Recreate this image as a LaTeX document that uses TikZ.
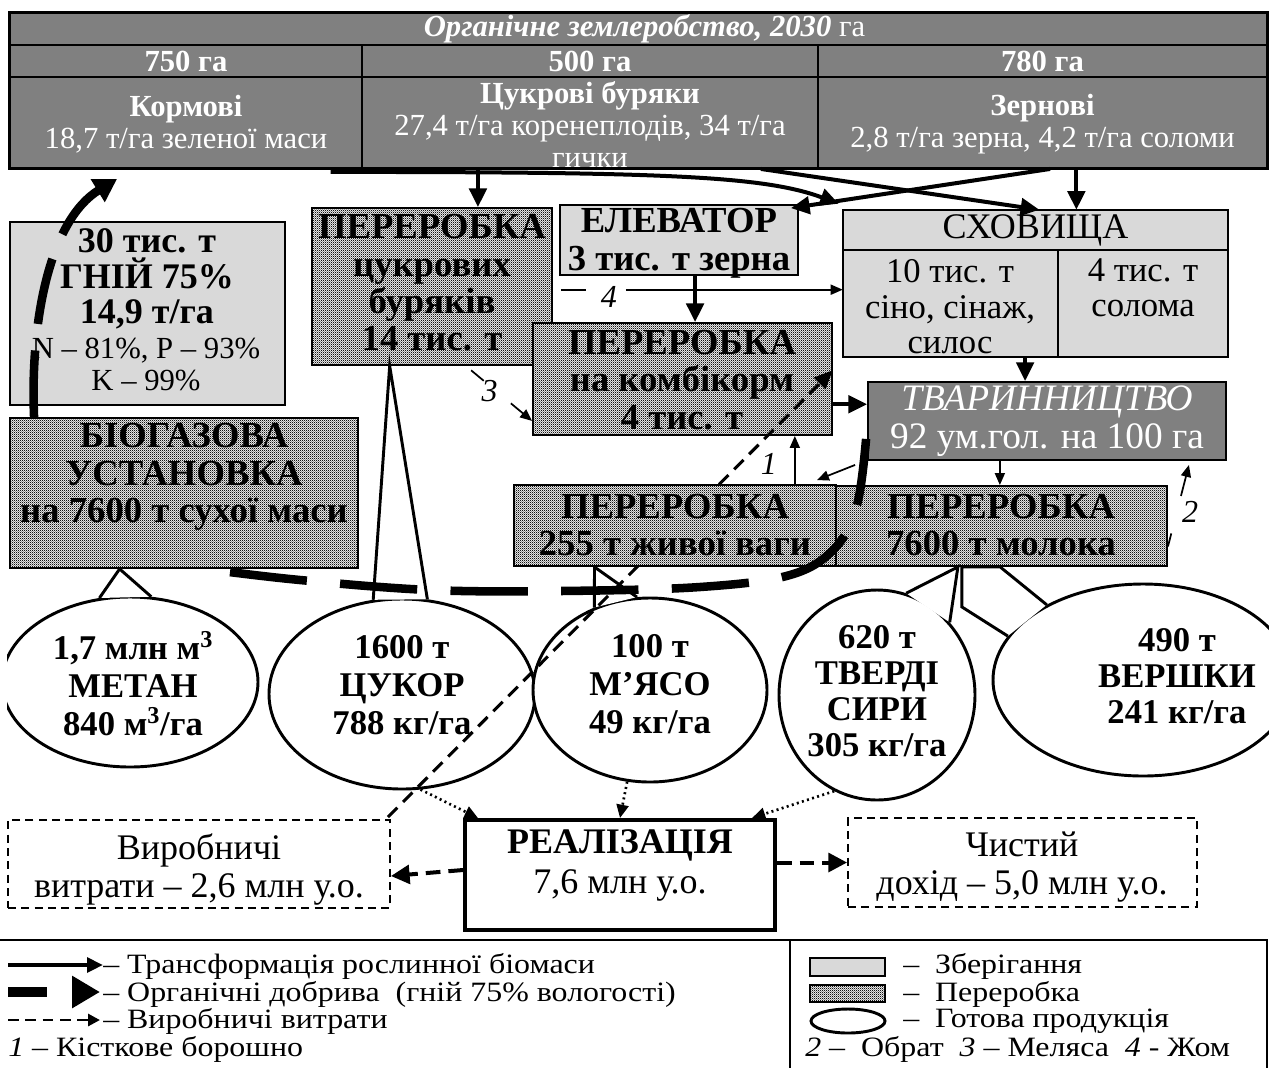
\documentclass[tikz,border=0pt]{standalone}
\usepackage{fontspec}
\setmainfont{Liberation Serif}
\newfontfamily\legfont[FakeStretch=1.14]{Liberation Serif}
\usetikzlibrary{arrows.meta,shapes.geometric,calc,fit,patterns}
\pgfdeclarepatternformonly{checker}{\pgfqpoint{0pt}{0pt}}{\pgfqpoint{1.6pt}{1.6pt}}{\pgfqpoint{1.6pt}{1.6pt}}{%
\pgfpathrectangle{\pgfqpoint{0pt}{0pt}}{\pgfqpoint{0.8pt}{0.8pt}}%
\pgfpathrectangle{\pgfqpoint{0.8pt}{0.8pt}}{\pgfqpoint{0.8pt}{0.8pt}}%
\pgfusepath{fill}}
\definecolor{dgray}{HTML}{808080}
\definecolor{lgray}{HTML}{D9D9D9}
\newcommand\fs[2]{\fontsize{#1}{#2}\selectfont}
\begin{document}
\begin{tikzpicture}[x=0.75pt,y=-0.75pt,
 bx/.style={inner sep=0pt, draw, line width=1.4pt},
 tbl/.style={bx, fill=dgray},
 store/.style={bx, fill=lgray},
 proc/.style={bx, preaction={fill=gray!8}, pattern=checker, pattern color=black!92},
 dashbox/.style={bx, dash pattern=on 6pt off 4pt},
 txt/.style={inner sep=0pt, align=center},
 wtxt/.style={txt, text=white, font=\fs{23}{24}},
 btxt/.style={txt, font=\fs{27.5}{28}\bfseries},
 etxt/.style={txt, font=\fs{26}{28.5}\bfseries},
 rtxt/.style={txt, font=\fs{27}{29}},
 legt/.style={inner sep=0pt, anchor=west, font=\legfont\fs{21}{21}},
 lab/.style={inner sep=1pt, font=\fs{24}{24}\itshape},
 ell/.style={ellipse, draw, fill=white, line width=2.2pt, inner sep=0pt},
 ptr/.style={line width=2.2pt, line join=miter},
 tarrow/.style={line width=3pt, -{Triangle[length=14pt,width=13pt]}},
 thinln/.style={line width=1.3pt},
 thinar/.style={line width=1.3pt, -{Triangle[length=9pt,width=7.5pt]}},
 fertA/.style={line width=6.4pt, dash pattern=on 58pt off 25pt, dash phase=8pt},
 fertB/.style={line width=6.4pt, dash pattern=on 50pt off 20pt, -{Triangle[length=17pt,width=19pt]}},
 cost/.style={line width=2.3pt, dash pattern=on 10pt off 6pt, -{Triangle[length=14pt,width=12pt]}},
 dotar/.style={line width=2pt, dash pattern=on 1.5pt off 2.5pt, -{Triangle[length=10pt,width=9pt]}},
 tdash/.style={line width=3pt, dash pattern=on 11pt off 6pt, -{Triangle[length=14pt,width=14pt]}}
]
\useasboundingbox (0,0) rectangle (1269,1068);
\clip (0,0) rectangle (1269,1068);
\fill[white] (0,0) rectangle (1269,1068);

% ---------- table ----------
\node[tbl, fit={(10,13)(1267,45)}] (title) {};
\node[tbl, fit={(10,45)(362,77)}] (h1) {};
\node[tbl, fit={(362,45)(818,77)}] (h2) {};
\node[tbl, fit={(818,45)(1267,77)}] (h3) {};
\node[tbl, fit={(10,77)(362,168)}] (c1) {};
\node[tbl, fit={(362,77)(818,168)}] (c2) {};
\node[tbl, fit={(818,77)(1267,168)}] (c3) {};
\draw[line width=2.2pt] (title.north west) rectangle (c3.south east);
\node[wtxt] (titlet) at ($(title.center)+(6,0)$) {\textbf{\textit{Органічне землеробство, 2030}} га};
\node[wtxt, font=\fs{23}{24}\bfseries] (h1t) at (h1.center) {750 га};
\node[wtxt, font=\fs{23}{24}\bfseries] (h2t) at (h2.center) {500 га};
\node[wtxt, font=\fs{23}{24}\bfseries] (h3t) at (h3.center) {780 га};
\node[wtxt] (c1t) at ($(c1.center)+(0,2)$) {\textbf{Кормові}\\18,7 т/га зеленої маси};
\node[wtxt] (c2t) at ($(c2.center)+(0,2)$) {\textbf{Цукрові буряки}\\27,4 т/га коренеплодів, 34 т/га\\гички};
\node[wtxt] (c3t) at ($(c3.center)+(0,2)$) {\textbf{Зернові}\\2,8 т/га зерна, 4,2 т/га соломи};

% ---------- boxes ----------
\node[store, fit={(10,222)(285,405)}] (gnij) {};
\node[txt, font=\fs{27}{26.5}\bfseries] (gnijA) at (147,279) {30 тис. т\\ГНІЙ 75\%\\14,9 т/га};
\node[txt, font=\fs{23}{24}] (gnijB) at (146,364) {N – 81\%, P – 93\%\\K – 99\%};

\node[proc, fit={(10,418)(358,568)}] (bio) {};
\node[btxt] (biot) at (184,477) {БІОГАЗОВА\\УСТАНОВКА\\на 7600 т сухої маси};

\node[proc, fit={(312,208)(552,365)}] (cukr) {};
\node[btxt] (cukrt) at (432,283) {ПЕРЕРОБКА\\цукрових\\буряків\\14 тис. т};

\node[store, fit={(560,205)(798,275)}] (elev) {};
\node[btxt, font=\fs{27.5}{28.5}\bfseries] (elevt) at (679,243) {ЕЛЕВАТОР\\3 тис. т зерна};

\node[store, fit={(843,210)(1228,250)}] (skhA) {};
\node[store, fit={(843,250)(1058,357)}] (skhB) {};
\node[store, fit={(1058,250)(1228,357)}] (skhC) {};
\node[inner sep=0pt, fit={(843,210)(1228,357)}] (skh) {};
\node[txt, font=\fs{27}{28}] (skhAt) at (skhA.center) {СХОВИЩА};
\node[txt, font=\fs{26}{26.6}] (skhBt) at (950,307) {10 тис. т\\сіно, сінаж,\\силос};
\node[txt, font=\fs{26}{26.6}] (skhCt) at (1143,288) {4 тис. т\\солома};

\node[proc, fit={(533,323)(832,435)}] (komb) {};
\node[btxt] (kombt) at (682,380) {ПЕРЕРОБКА\\на комбікорм\\4 тис. т};

\node[tbl, fit={(868,382)(1226,460)}] (tvar) {};
\node[txt, text=white, font=\fs{28}{28}] (tvart) at (1047,421) {\textit{ТВАРИННИЦТВО}\\92 ум.гол. на 100 га};

\node[proc, fit={(836,486)(1167,566)}] (mol) {};
\node[btxt] (molt) at (1001,525) {ПЕРЕРОБКА\\7600 т молока};

% ---------- bubbles ----------
\node[ell, minimum width={300*0.75pt}, minimum height={192*0.75pt}] (ver) at (1143,680) {};
\coordinate (vA1) at ($(mol.south west)!0.381!(mol.south east)$);
\coordinate (vA2) at ($(mol.south west)!0.496!(mol.south east)$);
\coordinate (vK) at ($(vA1)+(0,40)$);
\fill[white] (ver.162) -- (vK) -- (vA1) -- (vA2) -- (ver.142.5) -- cycle;
\draw[ptr] (ver.162) -- (vK) -- (vA1) -- (vA2) -- (ver.142.5);

\node[ell, minimum width={196*0.75pt}, minimum height={210*0.75pt}] (sir) at (877,695) {};
\coordinate (sA) at ($(mol.south west)!0.369!(mol.south east)$);
\fill[white] (sir.74) -- (sA) -- (sir.45) -- cycle;
\draw[ptr] (sir.74) -- (sA) -- (sir.45);

\begin{scope}
\clip (7,0) rectangle (1269,1068);
\node[ell, minimum width={256*0.75pt}, minimum height={170*0.75pt}] (met) at (130,682) {};
\end{scope}
\coordinate (mA) at ($(bio.south west)!0.316!(bio.south east)$);
\fill[white] (met.110.6) -- (mA) -- (met.76) -- cycle;
\draw[ptr] (met.110.6) -- (mA) -- (met.76);

\node[ell, minimum width={266*0.75pt}, minimum height={190*0.75pt}] (cuk) at (402,694) {};
\coordinate (cA) at ($(cukr.south west)!0.325!(cukr.south east)$);
\fill[white] (cuk.107.1) -- (cA) -- (cuk.75.4) -- cycle;
\draw[ptr] (cuk.107.1) -- (cA) -- (cuk.75.4);

\node[ell, minimum width={234*0.75pt}, minimum height={184*0.75pt}] (mje) at (650,690) {};
\coordinate (mjA) at (594.5,567);
\fill[white] (mje.124.2) -- (mjA) -- (mje.98.1) -- cycle;
\draw[ptr] (mje.124.2) -- (mjA) -- (mje.98.1);

\node[etxt] (mett) at (133,684) {1,7 млн м\textsuperscript{3}\\МЕТАН\\840 м\textsuperscript{3}/га};
\node[etxt] (cukt) at (402,685) {1600 т\\ЦУКОР\\788 кг/га};
\node[etxt] (mjet) at (650,684) {100 т\\М’ЯСО\\49 кг/га};
\node[etxt, font=\fs{26}{27}\bfseries] (sirt) at (877,691) {620 т\\ТВЕРДІ\\СИРИ\\305 кг/га};
\node[etxt, font=\fs{26}{27}\bfseries] (vert) at (1177,676) {490 т\\ВЕРШКИ\\241 кг/га};

% ---------- bottom boxes ----------
\node[draw, line width=3pt, fill=white, inner sep=0pt, fit={(465,820)(775,930)}] (real) {};
\node[rtxt, font=\fs{27}{30}] (realt) at (620,865) {\textbf{РЕАЛІЗАЦІЯ}\\7,6 млн у.о.};
\node[dashbox, fit={(8,820)(390,908)}] (vytr) {};
\node[rtxt, font=\fs{27}{28.5}] (vytrt) at (199,869) {Виробничі\\витрати – 2,6 млн у.о.};
\node[dashbox, fit={(848,818)(1197,907)}] (doh) {};
\node[rtxt, font=\fs{27}{28.5}] (doht) at (1022,867) {Чистий\\дохід – 5,0 млн у.о.};

% ---------- production costs dashed line (under the meat box) ----------
\coordinate (cs) at ($(vytr.north east)+(-3,-2)$);
\coordinate (ce) at ($(skh.south west)+(-10,13)$);
\draw[cost] (cs) -- (ce);

\node[proc, fit={(514,485)(836,566)}] (mjb) {};
\node[btxt] (mjbt) at (675,525) {ПЕРЕРОБКА\\255 т живої ваги};

% ---------- arrows ----------
\coordinate (a1) at ($(cukr.north west)!0.69!(cukr.north east)$);
\draw[tarrow] (a1 |- c2.south) -- (a1);
\coordinate (a2) at ($(skh.north west)!0.606!(skh.north east)$);
\draw[tarrow] (a2 |- c3.south) -- (a2);
\coordinate (a3s) at ($(c1.south west)!0.909!(c1.south east)+(0,3)$);
\coordinate (a3e) at ($(skh.north west)+(-4,-6)$);
\draw[tarrow] (a3s) .. controls +(330,0) and +(-75,-28) .. (a3e);
\coordinate (a4s) at ($(c2.south west)!0.873!(c2.south east)$);
\coordinate (a4e) at ($(skh.north west)!0.51!(skh.north east)$);
\draw[tarrow] (a4s) -- (a4e);
\coordinate (a5s) at ($(c3.south west)!0.517!(c3.south east)$);
\coordinate (a5e) at ($(elev.north east)+(-8,4)$);
\draw[tarrow] (a5s) -- (a5e);
\coordinate (a6) at ($(elev.south west)!0.567!(elev.south east)$);
\draw[tarrow] (a6) -- (a6 |- komb.north);
\coordinate (a9) at ($(tvar.north west)!0.29!(tvar.south west)$);
\draw[tarrow] (a9 -| komb.east) -- (a9);
\coordinate (a10) at ($(skh.south west)!0.473!(skh.south east)$);
\draw[tarrow] (a10) -- (a10 |- tvar.north);
\coordinate (a11) at ($(tvar.south west)!0.369!(tvar.south east)$);
\draw[thinar] (a11) -- (a11 |- mol.north);

% 4 - zhom
\coordinate (j1) at ($(cukr.north east)!0.52!(cukr.south east)$);
\draw[thinln] ($(j1)+(8,0)$) -- ($(j1)+(33,0)$);
\draw[thinar] ($(j1)+(73,0)$) -- (j1 -| skh.west);
\node[lab] (l4) at ($(j1)+(56,7)$) {4};
% 3 - melyasa
\coordinate (m1) at ($(cukr.south west)!0.64!(cukr.south east)$);
\coordinate (m2) at ($(komb.south west)+(0,-15)$);
\draw[thinln] ($(m1)!0.08!(m2)$) -- ($(m1)!0.27!(m2)$);
\draw[thinar] ($(m1)!0.68!(m2)$) -- (m2);
\node[lab] (l3) at ($(m1)!0.45!(m2)+(-6,0)$) {3};
% 2 - obrat
\coordinate (o1) at ($(mol.north east)!0.75!(mol.south east)$);
\coordinate (o2) at ($(tvar.south east)+(-38,4)$);
\draw[thinln] (o1) -- ($(o1)!0.16!(o2)$);
\draw[thinar] ($(o1)!0.62!(o2)$) -- (o2);
\node[lab] (l2) at (1190,512) {2};
% 1 - bone meal
\coordinate (a13) at ($(mjb.north west)!0.87!(mjb.north east)$);
\draw[thinar] (a13) -- (a13 |- komb.south);
\node[lab] (l1) at ($(a13)+(-26,-20)$) {1};
% livestock -> meat
\draw[thinar] ($(tvar.south west)+(-12,4)$) -- ($(mjb.north east)+(-20,-4)$);

% fertiliser
\coordinate (f1) at ($(bio.south west)!0.56!(bio.south east)$);
\coordinate (f2) at ($(tvar.south west)+(-1,-22)$);
\draw[fertA] plot[smooth, tension=0.6] coordinates {(f2) (857,505) (835,548) (790,575) (700,587) (560,591) (430,590) (300,580) (f1)};
\coordinate (f3) at ($(bio.north west)+(25,0)$);
\coordinate (f4) at ($(c1.south west)+(108,10)$);
\draw[fertB] (f3) .. controls (30,320) and (50,220) .. (f4);

% dotted to sales
\draw[dotar] (cuk.-79) -- ($(real.north west)+(15,0)$);
\draw[dotar] (mje.-104) -- (real.north);
\draw[dotar] (sir.-114) -- ($(real.north east)+(-25,0)$);
% sales -> costs / profit
\draw[tdash] ($(real.west)+(0,-5)$) -- ($(vytr.east)+(0,12)$);
\draw[tdash] (real.east |- doh.west) -- (doh.west);

% ---------- legend ----------
\draw[line width=1.8pt] (0,940) -- (1267,940) -- (1267,1068);
\draw[line width=1.8pt] (790,940) -- (790,1068);
\draw[line width=3pt, -{Triangle[length=12pt,width=11pt]}] (8,965) -- (103,965);
\draw[line width=8pt, dash pattern=on 29pt off 100pt, -{Triangle[length=21pt,width=23pt]}] (8,992) -- (100,992);
\draw[line width=2.2pt, dash pattern=on 8pt off 5pt, -{Triangle[length=9pt,width=9pt]}] (8,1020) -- (100,1020);
\node[legt] (lg1) at (103,966) {– Трансформація рослинної біомаси};
\node[legt] (lg2) at (103,994) {– Органічні добрива \ (гній 75\% вологості)};
\node[legt] (lg3) at (103,1021) {– Виробничі витрати};
\node[legt] (lg4) at (8,1049) {\textit{1} – Кісткове борошно};
\node[store, fit={(810,958)(885,976)}] (lgS) {};
\node[proc, fit={(810,985)(885,1002)}] (lgP) {};
\node[ell, minimum width={74*0.75pt}, minimum height={24*0.75pt}] (lgE) at (848,1021) {};
\node[legt] (lg5) at (903,966) {– \ Зберігання};
\node[legt] (lg6) at (903,994) {– \ Переробка};
\node[legt] (lg7) at (903,1021) {– \ Готова продукція};
\node[legt] (lg8) at (805,1049) {\textit{2} – \ Обрат \ \textit{3} – Меляса \ \textit{4} - Жом};
\end{tikzpicture}
\end{document}
